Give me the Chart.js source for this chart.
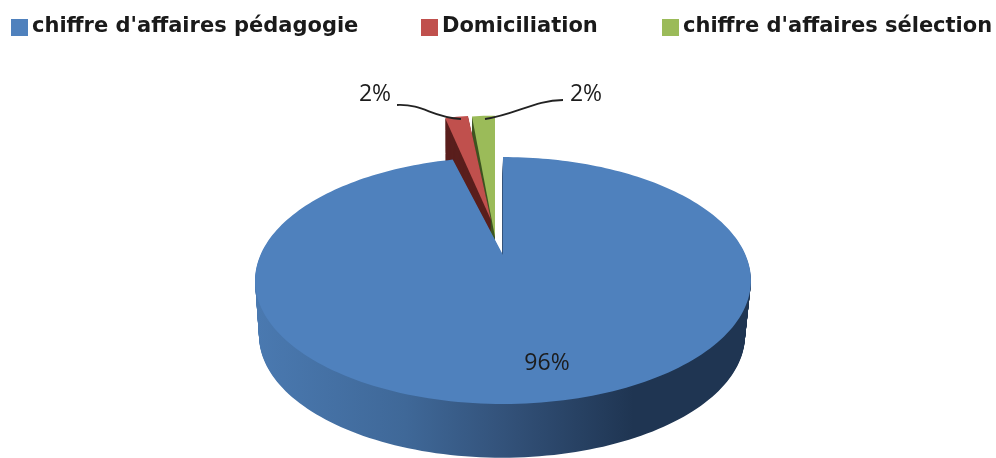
<!DOCTYPE html>
<html>
<head>
<meta charset="utf-8">
<title>Chiffre d'affaires</title>
<script src="https://cdn.jsdelivr.net/npm/chart.js@4"></script>
<style>
  html, body { margin: 0; padding: 0; background: #fff; }
  canvas { display: block; }
</style>
</head>
<body>
<canvas id="pie" width="996" height="458"></canvas>
<script>
const categories = ["chiffre d'affaires pédagogie", 'Domiciliation', "chiffre d'affaires sélection"];
const shares = [96, 2, 2];
const topColors = ['#4f81bd', '#c0504d', '#9bbb59'];
const sideColors = [null, '#5a1f1d', '#3f5522'];

// dx: sideways pull in pixels, ov: pull along the depth axis, k: stretch along that axis
const pulled = [
  { dx: 0, ov: 0, k: 1 },
  { dx: -12, ov: 0.316, k: 1.247 },
  { dx: -8, ov: 0.158, k: 1.4 }
];

// disc perspective
const view = { cx: 503, apexY: 255, A: 242.6, B: 118.2, c: 0.2065 };
// where the underside of the disc ends up
const floor = { x0: 503, y0: 280, x1: 502, y1: 335, sx: 0.98, sy: 0.99 };

const labelFont = '23px "Open Sans"';
const labelSpots = [[547, 363], [375, 94], [586, 94]];
const legendFont = 'bold 21px "DejaVu Sans"';
const legendX = [11, 421, 662];

function project(u, v) {
  const w = 1 + view.c * v;
  return [view.cx + view.A * u / w, view.apexY - view.B * v / w];
}

function lower(p, t) {
  const bx = floor.x1 + (p[0] - floor.x0) * floor.sx;
  const by = floor.y1 + (p[1] - floor.y0) * floor.sy;
  return [p[0] + (bx - p[0]) * t, p[1] + (by - p[1]) * t];
}

function slicePoints(arc, i) {
  const off = pulled[i];
  const a0 = arc.startAngle + Math.PI / 2;
  const a1 = arc.endAngle + Math.PI / 2;
  const steps = Math.max(4, Math.ceil((a1 - a0) * 40));
  const raw = [project(0, off.ov)];
  for (let s = 0; s <= steps; s++) {
    const a = a0 + (a1 - a0) * s / steps;
    raw.push(project(Math.sin(a), off.ov + off.k * Math.cos(a)));
  }
  return raw.map(p => [p[0] + off.dx, p[1]]);
}

function fillPoly(ctx, pts, style) {
  ctx.beginPath();
  pts.forEach((p, n) => n ? ctx.lineTo(p[0], p[1]) : ctx.moveTo(p[0], p[1]));
  ctx.closePath();
  ctx.fillStyle = style;
  ctx.fill();
}

const disc3d = {
  id: 'disc3d',
  beforeDatasetsDraw(chart) {
    const ctx = chart.ctx;
    const arcs = chart.getDatasetMeta(0).data;

    const wall = ctx.createLinearGradient(257, 0, 752, 0);
    wall.addColorStop(0, '#4a79b0');
    wall.addColorStop(0.3, '#3f6898');
    wall.addColorStop(0.5, '#33527a');
    wall.addColorStop(0.76, '#1f3552');
    wall.addColorStop(1, '#1f3552');

    // back to front: the small slices sit behind the big one
    for (let i = arcs.length - 1; i >= 0; i--) {
      const pts = slicePoints(arcs[i], i);
      for (let d = 56; d > 0; d--) {
        fillPoly(ctx, pts.map(p => lower(p, d / 56)), sideColors[i] || wall);
      }
      fillPoly(ctx, pts, topColors[i]);
    }

    // leader lines of the two small slices
    ctx.strokeStyle = '#222';
    ctx.lineWidth = 1.8;
    ctx.beginPath();
    ctx.moveTo(397, 105);
    ctx.bezierCurveTo(425, 104, 430, 117, 461, 119);
    ctx.moveTo(485, 119);
    ctx.bezierCurveTo(517, 114, 535, 100, 563, 100);
    ctx.stroke();

    ctx.font = labelFont;
    ctx.fillStyle = '#1c1c1c';
    ctx.textAlign = 'center';
    ctx.textBaseline = 'middle';
    shares.forEach((v, i) => ctx.fillText(v + '%', labelSpots[i][0], labelSpots[i][1]));

    // the built-in legend can't space its row this wide, so lay out its items here
    const items = Chart.overrides.pie.plugins.legend.labels.generateLabels(chart);
    ctx.font = legendFont;
    ctx.textAlign = 'left';
    items.forEach((item, i) => {
      ctx.fillStyle = item.fillStyle;
      ctx.fillRect(legendX[i], 19, 17, 17);
      ctx.fillStyle = '#1a1a1a';
      ctx.fillText(item.text, legendX[i] + 21, 27);
    });
    return false;
  }
};

new Chart(document.getElementById('pie'), {
  type: 'pie',
  data: {
    labels: categories,
    datasets: [{ data: shares, backgroundColor: topColors, borderWidth: 0 }]
  },
  options: {
    responsive: false,
    animation: false,
    events: [],
    plugins: {
      tooltip: { enabled: false },
      legend: { display: false }
    }
  },
  plugins: [disc3d]
});
</script>
</body>
</html>
